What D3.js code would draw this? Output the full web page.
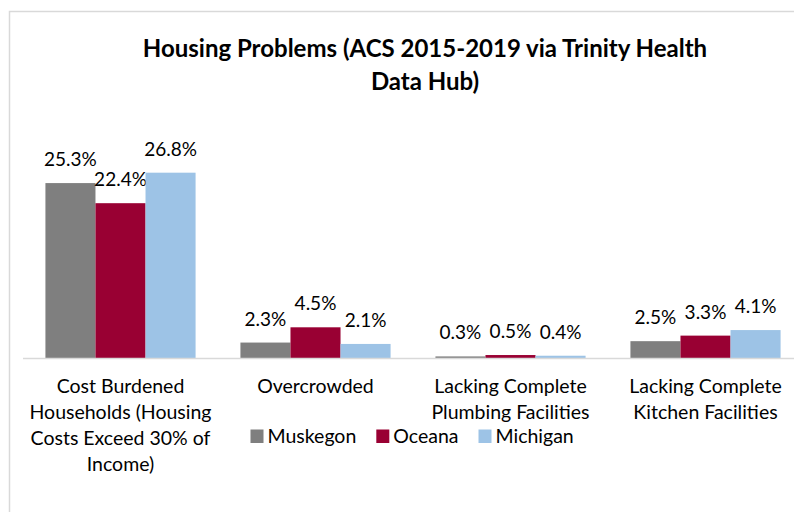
<!DOCTYPE html>
<html>
<head>
<meta charset="utf-8">
<script src="https://cdn.jsdelivr.net/npm/d3@7"></script>
<style>
  body { margin: 0; background: #fff; }
  svg { display: block; font-family: Lato, "Open Sans", sans-serif; }
</style>
</head>
<body>
<svg id="chart" width="794" height="512"></svg>
<script>
const categories = [
  "Cost Burdened\nHouseholds (Housing\nCosts Exceed 30% of\nIncome)",
  "Overcrowded",
  "Lacking Complete\nPlumbing Facilities",
  "Lacking Complete\nKitchen Facilities"
];
const seriesNames = ["Muskegon", "Oceana", "Michigan"];
const muskegon = [25.3, 2.3, 0.3, 2.5];
const oceana = [22.4, 4.5, 0.5, 3.3];
const michigan = [26.8, 2.1, 0.4, 4.1];
const titleLines = ["Housing Problems (ACS 2015-2019 via Trinity Health", "Data Hub)"];

const colors = ["#7f7f7f", "#990033", "#9dc3e6"];
const values = [muskegon, oceana, michigan];

const svg = d3.select("#chart");
const baseY = 358.5;

// chart area border (runs off the right / bottom edges)
svg.append("rect")
    .attr("x", 9.5).attr("y", 11.5)
    .attr("width", 900).attr("height", 600)
    .attr("fill", "none")
    .attr("stroke", "#d9d9d9")
    .attr("stroke-width", 1.5);

// title
svg.append("text")
    .attr("text-anchor", "middle")
    .attr("font-weight", "bold")
    .attr("font-size", "24px")
    .attr("fill", "#000")
    .selectAll("tspan")
    .data(titleLines)
    .join("tspan")
    .attr("x", 425)
    .attr("y", (d, i) => 57 + i * 33)
    .text(d => d);

const x = d3.scaleBand()
    .domain(d3.range(categories.length))
    .range([23, 803])
    .paddingInner(0.23)
    .paddingOuter(0.115);

const xs = d3.scaleBand()
    .domain(seriesNames)
    .range([0, x.bandwidth()]);

const y = d3.scaleLinear()
    .domain([0, 30])
    .range([baseY, baseY - 208]);

// bars
const groups = svg.append("g")
    .selectAll("g")
    .data(seriesNames)
    .join("g")
    .attr("fill", (d, i) => colors[i]);

groups.selectAll("rect")
    .data((d, i) => values[i].map((v, j) => ({s: d, v, j})))
    .join("rect")
    .attr("x", d => x(d.j) + xs(d.s))
    .attr("y", d => y(d.v))
    .attr("width", xs.bandwidth())
    .attr("height", d => baseY - y(d.v));

// axis line
svg.append("line")
    .attr("x1", 23).attr("x2", 794)
    .attr("y1", baseY).attr("y2", baseY)
    .attr("stroke", "#d9d9d9")
    .attr("stroke-width", 1.5);

// data labels
groups.selectAll("text")
    .data((d, i) => values[i].map((v, j) => ({s: d, v, j})))
    .join("text")
    .attr("x", d => x(d.j) + xs(d.s) + xs.bandwidth() / 2)
    .attr("y", d => y(d.v) - 17)
    .attr("text-anchor", "middle")
    .attr("font-size", "19px")
    .attr("fill", "#000")
    .text(d => d.v.toFixed(1) + "%");

// category labels
svg.append("g")
    .selectAll("text")
    .data(categories)
    .join("text")
    .attr("text-anchor", "middle")
    .attr("font-size", "19.5px")
    .attr("fill", "#000")
    .each(function(d, i) {
        const t = d3.select(this);
        d.split("\n").forEach((line, k) => {
            t.append("tspan")
                .attr("x", x(i) + x.bandwidth() / 2)
                .attr("y", 393 + k * 26)
                .text(line);
        });
    });

// legend
const legend = svg.append("g").attr("transform", "translate(250.5,443)");
let lx = 0;
seriesNames.forEach((name, i) => {
    const item = legend.append("g").attr("transform", `translate(${lx},0)`);
    item.append("rect")
        .attr("x", 0).attr("y", -13.5)
        .attr("width", 13).attr("height", 13.5)
        .attr("fill", colors[i]);
    const label = item.append("text")
        .attr("x", 17)
        .attr("font-size", "19.5px")
        .attr("fill", "#000")
        .text(name);
    lx += 17 + label.node().getComputedTextLength() + 20;
});
</script>
</body>
</html>
